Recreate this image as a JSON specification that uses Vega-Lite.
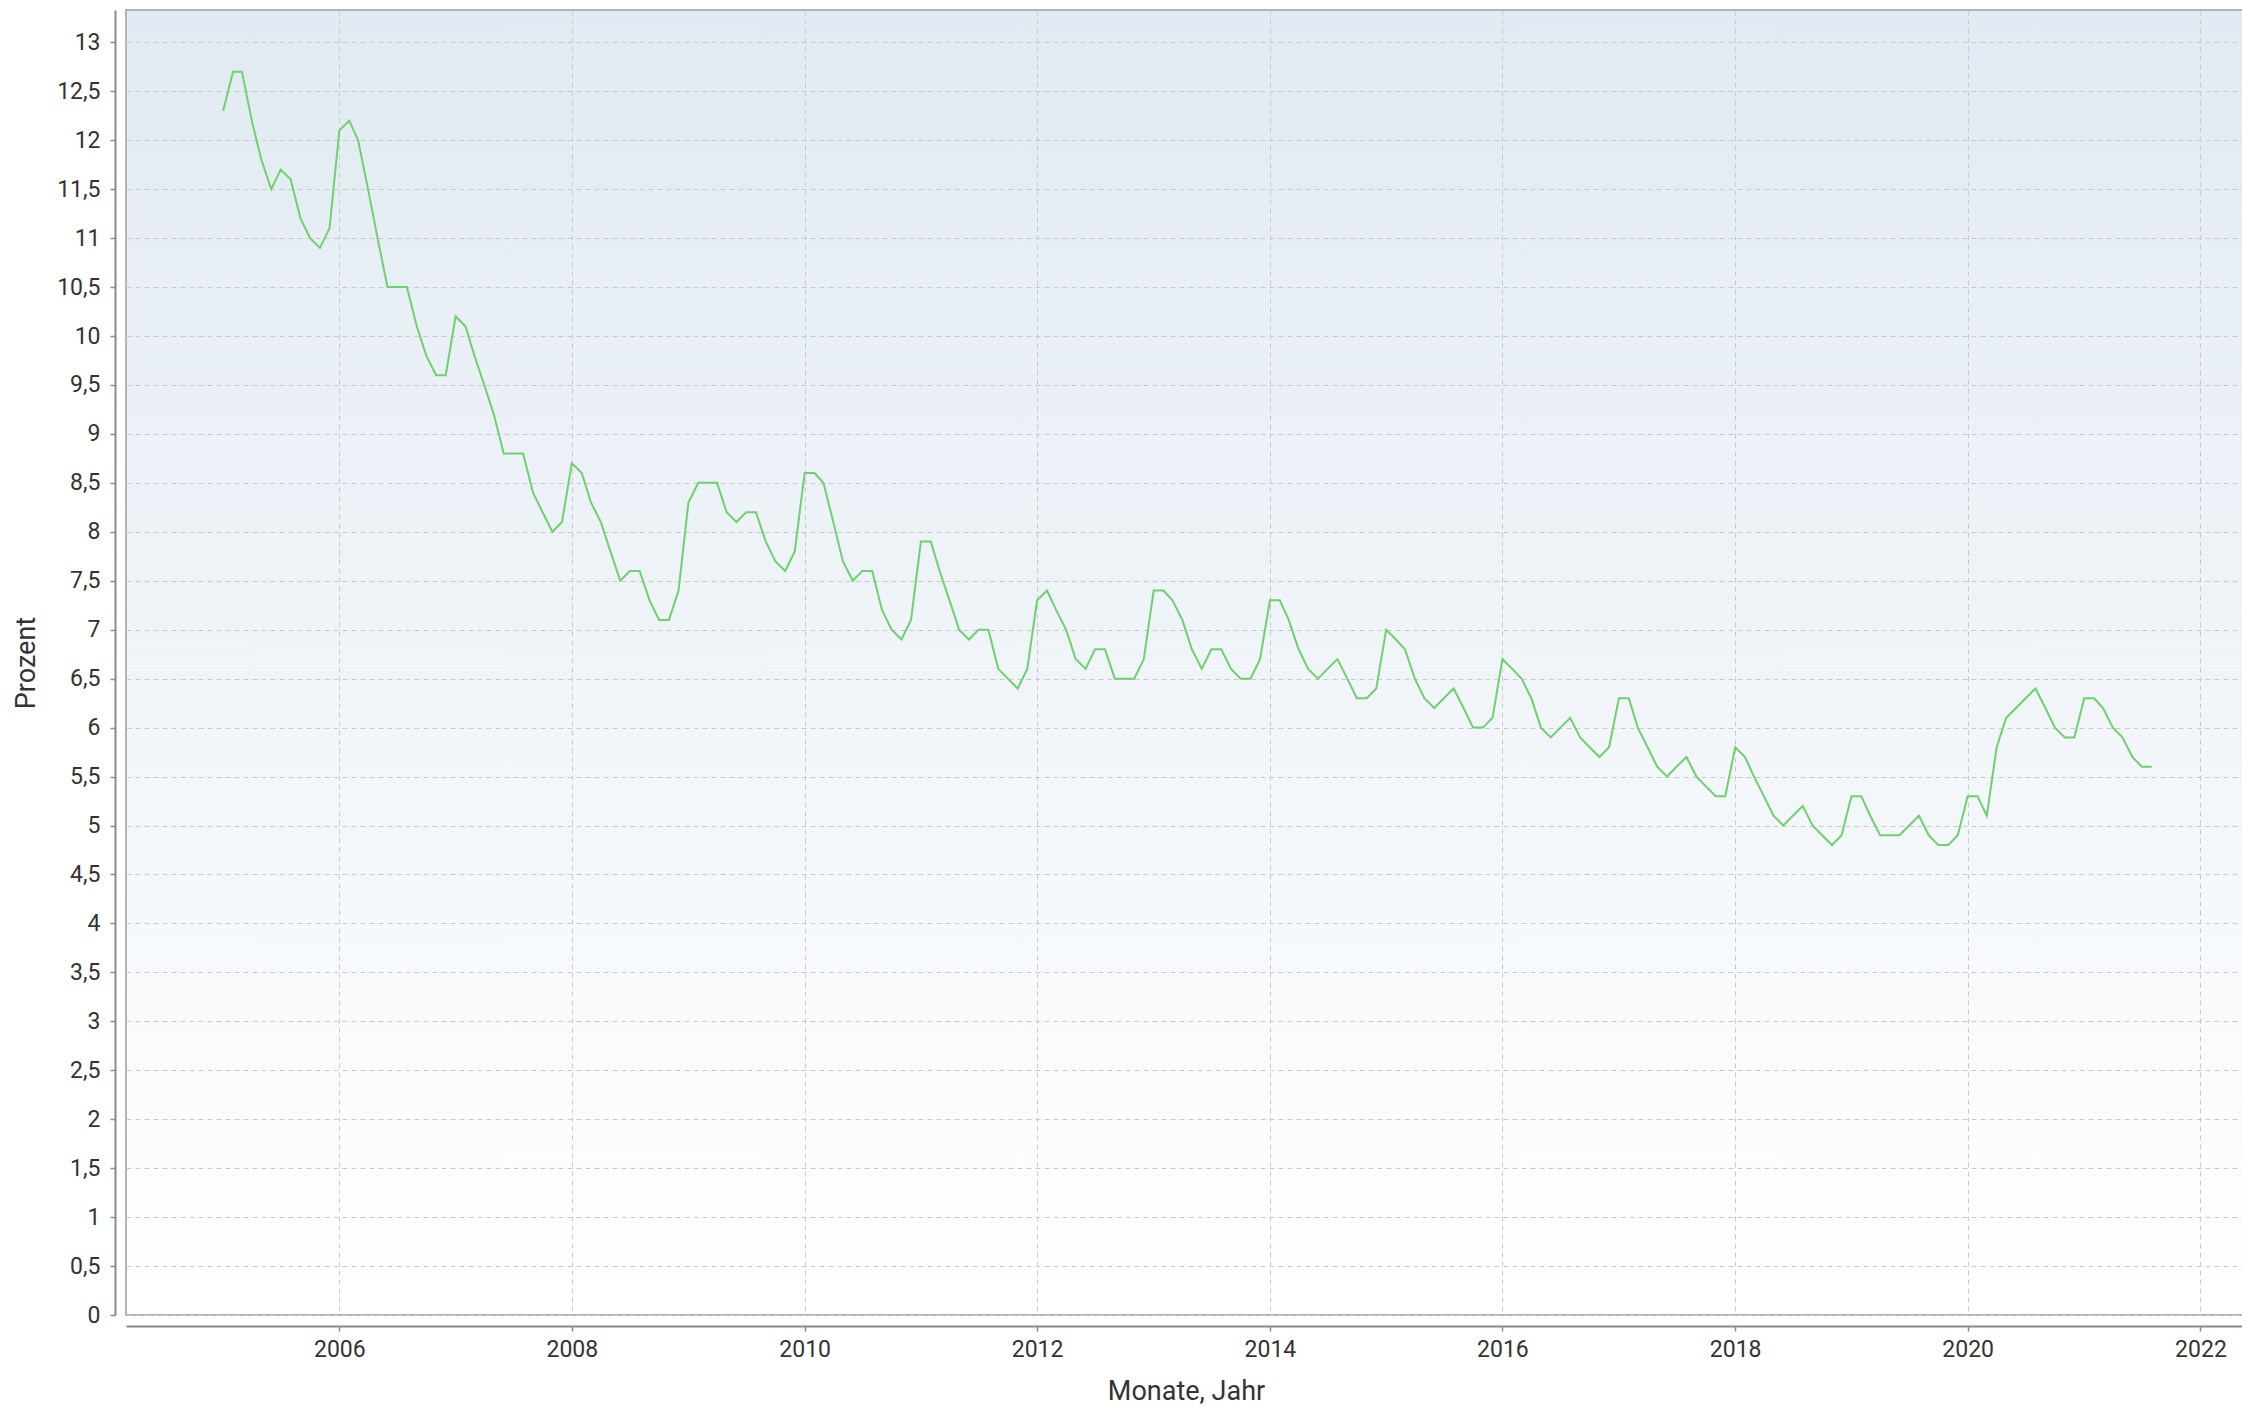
{
  "$schema": "https://vega.github.io/schema/vega-lite/v6.json",
  "width": 2120,
  "height": 1305,
  "autosize": {"type": "none"},
  "padding": {"left": 126, "top": 10, "right": 0, "bottom": 91},
  "background": "#ffffff",
  "config": {
    "view": {
      "stroke": "#b4b4b4",
      "strokeWidth": 2,
      "fill": {"gradient": "linear", "x1": 0, "y1": 0, "x2": 0, "y2": 1, "stops": [{"offset": 0, "color": "#e1eaf2"}, {"offset": 1, "color": "#ffffff"}]}
    },
    "axis": {
      "labelFont": "Roboto",
      "labelFontSize": 23,
      "labelColor": "#333333",
      "titleFont": "Roboto",
      "titleFontSize": 27,
      "titleFontWeight": "normal",
      "titleColor": "#333333",
      "domainColor": "#8a8a8a",
      "domainWidth": 2,
      "tickColor": "#8a8a8a",
      "tickWidth": 1.5,
      "tickSize": 5,
      "gridColor": "#cacaca",
      "gridDash": [5, 4],
      "gridWidth": 1,
      "labelOverlap": false
    }
  },
  "data": {"values": [
    {"date":"2005-01-01","value":12.3},{"date":"2005-02-01","value":12.7},{"date":"2005-03-01","value":12.7},{"date":"2005-04-01","value":12.2},{"date":"2005-05-01","value":11.8},{"date":"2005-06-01","value":11.5},{"date":"2005-07-01","value":11.7},{"date":"2005-08-01","value":11.6},{"date":"2005-09-01","value":11.2},{"date":"2005-10-01","value":11.0},{"date":"2005-11-01","value":10.9},{"date":"2005-12-01","value":11.1},
    {"date":"2006-01-01","value":12.1},{"date":"2006-02-01","value":12.2},{"date":"2006-03-01","value":12.0},{"date":"2006-04-01","value":11.5},{"date":"2006-05-01","value":11.0},{"date":"2006-06-01","value":10.5},{"date":"2006-07-01","value":10.5},{"date":"2006-08-01","value":10.5},{"date":"2006-09-01","value":10.1},{"date":"2006-10-01","value":9.8},{"date":"2006-11-01","value":9.6},{"date":"2006-12-01","value":9.6},
    {"date":"2007-01-01","value":10.2},{"date":"2007-02-01","value":10.1},{"date":"2007-03-01","value":9.8},{"date":"2007-04-01","value":9.5},{"date":"2007-05-01","value":9.2},{"date":"2007-06-01","value":8.8},{"date":"2007-07-01","value":8.8},{"date":"2007-08-01","value":8.8},{"date":"2007-09-01","value":8.4},{"date":"2007-10-01","value":8.2},{"date":"2007-11-01","value":8.0},{"date":"2007-12-01","value":8.1},
    {"date":"2008-01-01","value":8.7},{"date":"2008-02-01","value":8.6},{"date":"2008-03-01","value":8.3},{"date":"2008-04-01","value":8.1},{"date":"2008-05-01","value":7.8},{"date":"2008-06-01","value":7.5},{"date":"2008-07-01","value":7.6},{"date":"2008-08-01","value":7.6},{"date":"2008-09-01","value":7.3},{"date":"2008-10-01","value":7.1},{"date":"2008-11-01","value":7.1},{"date":"2008-12-01","value":7.4},
    {"date":"2009-01-01","value":8.3},{"date":"2009-02-01","value":8.5},{"date":"2009-03-01","value":8.5},{"date":"2009-04-01","value":8.5},{"date":"2009-05-01","value":8.2},{"date":"2009-06-01","value":8.1},{"date":"2009-07-01","value":8.2},{"date":"2009-08-01","value":8.2},{"date":"2009-09-01","value":7.9},{"date":"2009-10-01","value":7.7},{"date":"2009-11-01","value":7.6},{"date":"2009-12-01","value":7.8},
    {"date":"2010-01-01","value":8.6},{"date":"2010-02-01","value":8.6},{"date":"2010-03-01","value":8.5},{"date":"2010-04-01","value":8.1},{"date":"2010-05-01","value":7.7},{"date":"2010-06-01","value":7.5},{"date":"2010-07-01","value":7.6},{"date":"2010-08-01","value":7.6},{"date":"2010-09-01","value":7.2},{"date":"2010-10-01","value":7.0},{"date":"2010-11-01","value":6.9},{"date":"2010-12-01","value":7.1},
    {"date":"2011-01-01","value":7.9},{"date":"2011-02-01","value":7.9},{"date":"2011-03-01","value":7.6},{"date":"2011-04-01","value":7.3},{"date":"2011-05-01","value":7.0},{"date":"2011-06-01","value":6.9},{"date":"2011-07-01","value":7.0},{"date":"2011-08-01","value":7.0},{"date":"2011-09-01","value":6.6},{"date":"2011-10-01","value":6.5},{"date":"2011-11-01","value":6.4},{"date":"2011-12-01","value":6.6},
    {"date":"2012-01-01","value":7.3},{"date":"2012-02-01","value":7.4},{"date":"2012-03-01","value":7.2},{"date":"2012-04-01","value":7.0},{"date":"2012-05-01","value":6.7},{"date":"2012-06-01","value":6.6},{"date":"2012-07-01","value":6.8},{"date":"2012-08-01","value":6.8},{"date":"2012-09-01","value":6.5},{"date":"2012-10-01","value":6.5},{"date":"2012-11-01","value":6.5},{"date":"2012-12-01","value":6.7},
    {"date":"2013-01-01","value":7.4},{"date":"2013-02-01","value":7.4},{"date":"2013-03-01","value":7.3},{"date":"2013-04-01","value":7.1},{"date":"2013-05-01","value":6.8},{"date":"2013-06-01","value":6.6},{"date":"2013-07-01","value":6.8},{"date":"2013-08-01","value":6.8},{"date":"2013-09-01","value":6.6},{"date":"2013-10-01","value":6.5},{"date":"2013-11-01","value":6.5},{"date":"2013-12-01","value":6.7},
    {"date":"2014-01-01","value":7.3},{"date":"2014-02-01","value":7.3},{"date":"2014-03-01","value":7.1},{"date":"2014-04-01","value":6.8},{"date":"2014-05-01","value":6.6},{"date":"2014-06-01","value":6.5},{"date":"2014-07-01","value":6.6},{"date":"2014-08-01","value":6.7},{"date":"2014-09-01","value":6.5},{"date":"2014-10-01","value":6.3},{"date":"2014-11-01","value":6.3},{"date":"2014-12-01","value":6.4},
    {"date":"2015-01-01","value":7.0},{"date":"2015-02-01","value":6.9},{"date":"2015-03-01","value":6.8},{"date":"2015-04-01","value":6.5},{"date":"2015-05-01","value":6.3},{"date":"2015-06-01","value":6.2},{"date":"2015-07-01","value":6.3},{"date":"2015-08-01","value":6.4},{"date":"2015-09-01","value":6.2},{"date":"2015-10-01","value":6.0},{"date":"2015-11-01","value":6.0},{"date":"2015-12-01","value":6.1},
    {"date":"2016-01-01","value":6.7},{"date":"2016-02-01","value":6.6},{"date":"2016-03-01","value":6.5},{"date":"2016-04-01","value":6.3},{"date":"2016-05-01","value":6.0},{"date":"2016-06-01","value":5.9},{"date":"2016-07-01","value":6.0},{"date":"2016-08-01","value":6.1},{"date":"2016-09-01","value":5.9},{"date":"2016-10-01","value":5.8},{"date":"2016-11-01","value":5.7},{"date":"2016-12-01","value":5.8},
    {"date":"2017-01-01","value":6.3},{"date":"2017-02-01","value":6.3},{"date":"2017-03-01","value":6.0},{"date":"2017-04-01","value":5.8},{"date":"2017-05-01","value":5.6},{"date":"2017-06-01","value":5.5},{"date":"2017-07-01","value":5.6},{"date":"2017-08-01","value":5.7},{"date":"2017-09-01","value":5.5},{"date":"2017-10-01","value":5.4},{"date":"2017-11-01","value":5.3},{"date":"2017-12-01","value":5.3},
    {"date":"2018-01-01","value":5.8},{"date":"2018-02-01","value":5.7},{"date":"2018-03-01","value":5.5},{"date":"2018-04-01","value":5.3},{"date":"2018-05-01","value":5.1},{"date":"2018-06-01","value":5.0},{"date":"2018-07-01","value":5.1},{"date":"2018-08-01","value":5.2},{"date":"2018-09-01","value":5.0},{"date":"2018-10-01","value":4.9},{"date":"2018-11-01","value":4.8},{"date":"2018-12-01","value":4.9},
    {"date":"2019-01-01","value":5.3},{"date":"2019-02-01","value":5.3},{"date":"2019-03-01","value":5.1},{"date":"2019-04-01","value":4.9},{"date":"2019-05-01","value":4.9},{"date":"2019-06-01","value":4.9},{"date":"2019-07-01","value":5.0},{"date":"2019-08-01","value":5.1},{"date":"2019-09-01","value":4.9},{"date":"2019-10-01","value":4.8},{"date":"2019-11-01","value":4.8},{"date":"2019-12-01","value":4.9},
    {"date":"2020-01-01","value":5.3},{"date":"2020-02-01","value":5.3},{"date":"2020-03-01","value":5.1},{"date":"2020-04-01","value":5.8},{"date":"2020-05-01","value":6.1},{"date":"2020-06-01","value":6.2},{"date":"2020-07-01","value":6.3},{"date":"2020-08-01","value":6.4},{"date":"2020-09-01","value":6.2},{"date":"2020-10-01","value":6.0},{"date":"2020-11-01","value":5.9},{"date":"2020-12-01","value":5.9},
    {"date":"2021-01-01","value":6.3},{"date":"2021-02-01","value":6.3},{"date":"2021-03-01","value":6.2},{"date":"2021-04-01","value":6.0},{"date":"2021-05-01","value":5.9},{"date":"2021-06-01","value":5.7},{"date":"2021-07-01","value":5.6},{"date":"2021-08-01","value":5.6}
  ]},
  "mark": {"type": "line", "color": "#6fd06f", "strokeWidth": 2, "clip": true},
  "encoding": {
    "x": {
      "field": "date",
      "type": "temporal",
      "scale": {
        "type": "utc",
        "domain": [{"year": 2004, "month": 3, "date": 2, "utc": true}, {"year": 2022, "month": 5, "date": 24, "utc": true}],
        "nice": false
      },
      "axis": {
        "title": "Monate, Jahr",
        "format": "%Y",
        "values": [
          {"year": 2006, "month": 1, "date": 1, "utc": true},
          {"year": 2008, "month": 1, "date": 1, "utc": true},
          {"year": 2010, "month": 1, "date": 1, "utc": true},
          {"year": 2012, "month": 1, "date": 1, "utc": true},
          {"year": 2014, "month": 1, "date": 1, "utc": true},
          {"year": 2016, "month": 1, "date": 1, "utc": true},
          {"year": 2018, "month": 1, "date": 1, "utc": true},
          {"year": 2020, "month": 1, "date": 1, "utc": true},
          {"year": 2022, "month": 1, "date": 1, "utc": true}
        ],
        "offset": 11,
        "labelPadding": 7,
        "titlePadding": 17,
        "labelFlush": false
      }
    },
    "y": {
      "field": "value",
      "type": "quantitative",
      "scale": {"domain": [0, 13.33], "nice": false, "zero": true},
      "axis": {
        "title": "Prozent",
        "values": [0, 0.5, 1, 1.5, 2, 2.5, 3, 3.5, 4, 4.5, 5, 5.5, 6, 6.5, 7, 7.5, 8, 8.5, 9, 9.5, 10, 10.5, 11, 11.5, 12, 12.5, 13],
        "labelExpr": "replace(toString(datum.value), '.', ',')",
        "offset": 11,
        "labelPadding": 10,
        "titlePadding": 16
      }
    }
  }
}
